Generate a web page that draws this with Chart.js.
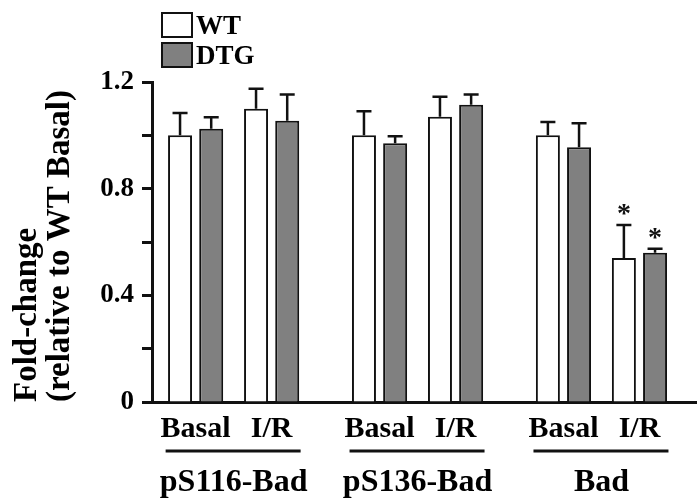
<!DOCTYPE html>
<html>
<head>
<meta charset="utf-8">
<script src="https://cdn.jsdelivr.net/npm/chart.js@4/dist/chart.umd.min.js"></script>
<style>
    html, body { margin: 0; padding: 0; background: #fff; }
    #wrap { width: 697px; height: 499px; position: relative; }
</style>
</head>
<body>
<div id="wrap"><canvas id="chart"></canvas></div>
<script>
// =========================================================
// Data
// =========================================================

const groups = ['pS116-Bad', 'pS136-Bad', 'Bad'];
const conditions = ['Basal', 'I/R'];
const seriesNames = ['WT', 'DTG'];

// one value per group/condition pair, in order: g1 Basal, g1 I/R, g2 Basal ...
const wtMean = [1.00, 1.10, 1.00, 1.07, 1.00, 0.54];
const wtErr = [0.084, 0.075, 0.09, 0.075, 0.05, 0.124];
const dtgMean = [1.025, 1.055, 0.97, 1.115, 0.955, 0.56];
const dtgErr = [0.043, 0.098, 0.027, 0.038, 0.09, 0.015];

// significance markers (*)
const wtSig = [false, false, false, false, false, true];
const dtgSig = [false, false, false, false, false, true];

const yMax = 1.2;
const yStep = 0.2;
const yLabelEvery = 0.4;

// =========================================================
// Layout helpers
// =========================================================

const GROUP_STEP = 2.42;   // distance between groups, in condition units
const FONT = '"Liberation Serif", "Times New Roman", serif';
const INK = '#111';

// x position of each group/condition pair on the linear axis
const xPos = [];
groups.forEach((g, gi) => {
    conditions.forEach((c, ci) => xPos.push(gi * GROUP_STEP + ci));
});

const toPoints = arr => arr.map((v, i) => ({ x: xPos[i], y: v }));

const errors = [wtErr, dtgErr];
const means = [wtMean, dtgMean];
const sigs = [wtSig, dtgSig];

// =========================================================
// Plugins: error bars, asterisks, group labels, legend
// =========================================================

const errorBars = {
    id: 'errorBars',
    afterDatasetsDraw(chart) {
        const ctx = chart.ctx;
        const yScale = chart.scales.y;
        ctx.save();
        ctx.strokeStyle = INK;
        ctx.fillStyle = INK;
        ctx.lineWidth = 2.5;
        chart.data.datasets.forEach((ds, di) => {
            const meta = chart.getDatasetMeta(di);
            meta.data.forEach((bar, i) => {
                const top = yScale.getPixelForValue(means[di][i] + errors[di][i]);
                ctx.beginPath();
                ctx.moveTo(bar.x, bar.y);
                ctx.lineTo(bar.x, top);
                ctx.moveTo(bar.x - 7.5, top);
                ctx.lineTo(bar.x + 7.5, top);
                ctx.stroke();
                if (sigs[di][i]) {
                    ctx.font = 'bold 28px ' + FONT;
                    ctx.textAlign = 'center';
                    ctx.textBaseline = 'alphabetic';
                    ctx.fillText('*', bar.x, top - 3);
                }
            });
        });
        ctx.restore();
    }
};

const groupLabels = {
    id: 'groupLabels',
    afterDraw(chart) {
        const ctx = chart.ctx;
        const xScale = chart.scales.x;
        ctx.save();
        ctx.strokeStyle = INK;
        ctx.fillStyle = '#000';
        ctx.lineWidth = 3;
        ctx.font = 'bold 32px ' + FONT;
        ctx.textAlign = 'center';
        ctx.textBaseline = 'alphabetic';
        groups.forEach((g, gi) => {
            const first = xScale.getPixelForValue(gi * GROUP_STEP);
            const last = xScale.getPixelForValue(gi * GROUP_STEP + conditions.length - 1);
            ctx.beginPath();
            ctx.moveTo(first - 30, 451);
            ctx.lineTo(last + 29, 451);
            ctx.stroke();
            ctx.fillText(g, (first + last) / 2, 491);
        });
        ctx.restore();
    }
};

const boxLegend = {
    id: 'boxLegend',
    afterDraw(chart) {
        const ctx = chart.ctx;
        ctx.save();
        ctx.font = 'bold 27px ' + FONT;
        ctx.textAlign = 'left';
        ctx.textBaseline = 'middle';
        chart.data.datasets.forEach((ds, i) => {
            const y = 13 + i * 30;
            ctx.fillStyle = ds.backgroundColor;
            ctx.fillRect(162, y, 30, 24);
            ctx.strokeStyle = INK;
            ctx.lineWidth = 2;
            ctx.strokeRect(162, y, 30, 24);
            ctx.fillStyle = '#000';
            ctx.fillText(ds.label, 196, y + 14);
        });
        ctx.restore();
    }
};

// =========================================================
// Chart
// =========================================================

Chart.defaults.font.family = FONT;
Chart.defaults.font.weight = 'bold';
Chart.defaults.color = '#000';

new Chart(document.getElementById('chart'), {
    type: 'bar',
    data: {
        datasets: [
            {
                label: seriesNames[0],
                data: toPoints(wtMean),
                backgroundColor: '#ffffff',
                borderColor: INK,
                borderWidth: 2
            },
            {
                label: seriesNames[1],
                data: toPoints(dtgMean),
                backgroundColor: '#808080',
                borderColor: INK,
                borderWidth: 2
            }
        ]
    },
    options: {
        responsive: true,
        maintainAspectRatio: false,
        animation: false,
        categoryPercentage: 0.82,
        barPercentage: 0.77,
        layout: { padding: { top: 82, left: 0, right: 0, bottom: 0 } },
        plugins: {
            legend: { display: false },
            tooltip: { enabled: false }
        },
        scales: {
            x: {
                type: 'linear',
                min: -0.574,
                max: 6.597,
                offset: false,
                grid: { display: false },
                border: { display: true, color: INK, width: 3 },
                afterBuildTicks: scale => {
                    scale.ticks = xPos.map(v => ({ value: v }));
                },
                afterFit: scale => { scale.height = 97; },
                ticks: {
                    autoSkip: false,
                    maxRotation: 0,
                    padding: 1,
                    font: { size: 30, weight: 'bold' },
                    callback: (value, index) => conditions[index % conditions.length]
                }
            },
            y: {
                min: 0,
                max: yMax,
                grid: {
                    display: true,
                    drawOnChartArea: false,
                    drawTicks: true,
                    tickLength: 10,
                    tickWidth: 3,
                    tickColor: INK
                },
                border: { display: true, color: INK, width: 3 },
                afterFit: scale => { scale.width = 152; },
                ticks: {
                    stepSize: yStep,
                    padding: 8,
                    font: { size: 27, weight: 'bold' },
                    callback: v => {
                        if (Math.round(v / yStep) % Math.round(yLabelEvery / yStep) !== 0) return '';
                        return v === 0 ? '0' : v.toFixed(1);
                    }
                },
                title: {
                    display: true,
                    text: ['Fold-change', '(relative to WT Basal)'],
                    align: 'start',
                    padding: { top: 11, bottom: 0 },
                    font: { size: 33, weight: 'bold', lineHeight: 1.0 }
                }
            }
        }
    },
    plugins: [errorBars, groupLabels, boxLegend]
});
</script>
</body>
</html>
